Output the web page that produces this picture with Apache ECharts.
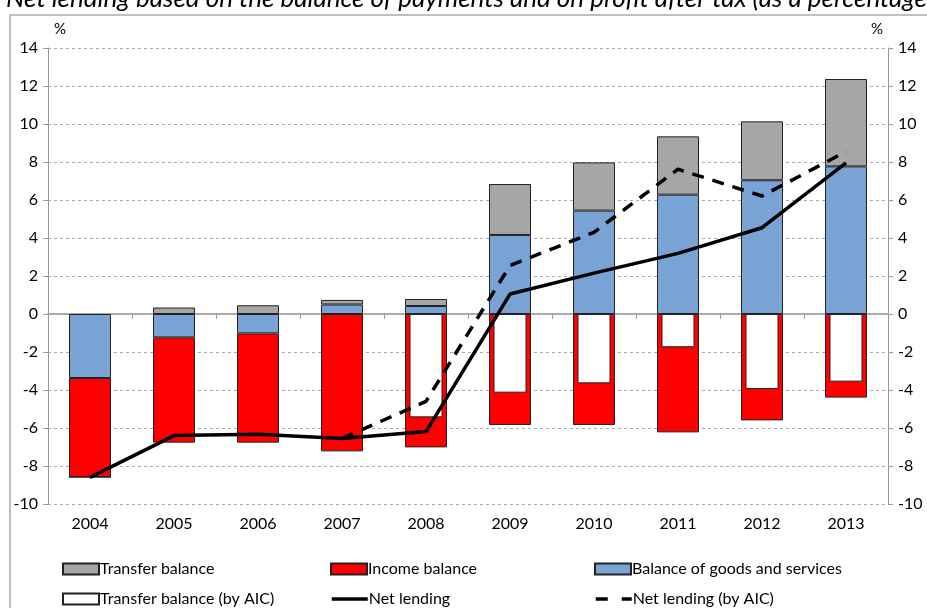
<!DOCTYPE html>
<html>
<head>
<meta charset="utf-8">
<script src="https://cdn.jsdelivr.net/npm/echarts@6/dist/echarts.min.js"></script>
<style>
    html, body { margin: 0; padding: 0; background: #fff; }
    #chart { width: 927px; height: 608px; }
</style>
</head>
<body>
<div id="chart"></div>
<script>
// values (% )
const years = ['2004', '2005', '2006', '2007', '2008', '2009', '2010', '2011', '2012', '2013']
const transfer = [0, 0.34, 0.46, 0.24, 0.37, 2.68, 2.54, 3.07, 3.10, 4.60]
const income = [-5.21, -5.54, -5.75, -7.23, -7.02, -5.84, -5.84, -6.23, -5.60, -4.40]
const goods = [-3.37, -1.23, -1.02, 0.50, 0.42, 4.16, 5.44, 6.28, 7.04, 7.77]
const transferAIC = [null, null, null, null, -5.44, -4.14, -3.65, -1.75, -3.95, -3.56]
const netLending = [-8.6, -6.40, -6.33, -6.55, -6.19, 1.05, 2.15, 3.19, 4.54, 7.96]
const netLendingAIC = [null, null, null, -6.55, -4.60, 2.55, 4.30, 7.62, 6.21, 8.55]

const font = 'Lato'
const edge = { borderColor: '#222', borderWidth: 1 }

const chart = echarts.init(document.getElementById('chart'))

const yAxisBase = {
    type: 'value',
    min: -10,
    max: 14,
    interval: 2,
    axisLine: { show: true, lineStyle: { color: '#999', width: 1 } },
    axisTick: { show: true, length: 5, lineStyle: { color: '#999' } },
    axisLabel: { color: '#000', fontFamily: font, fontSize: 16, margin: 10 },
    splitLine: { show: true, lineStyle: { color: '#aaa', type: [3, 3], width: 1 } }
}

function legendAt(name, left, top, extra) {
    return Object.assign({
        data: [name],
        left: left,
        top: top,
        icon: 'rect',
        itemWidth: 36,
        itemHeight: 11,
        itemGap: 0,
        padding: 0,
        textStyle: { color: '#000', fontFamily: font, fontSize: 16, padding: [0, 0, 0, -4] },
        selectedMode: false
    }, extra || {})
}

const option = {
    animation: false,
    grid: { left: 48, right: 39, top: 48, bottom: 104 },
    graphic: [
        {
            type: 'rect',
            shape: { x: 10, y: 15, width: 1200, height: 1200 },
            style: { fill: 'none', stroke: '#aaa', lineWidth: 1.5 },
            silent: true
        },
        {
            type: 'text',
            left: 6,
            top: -14,
            style: {
                text: 'Net lending based on the balance of payments and on profit after tax (as a percentage of GDP)',
                font: 'italic 26px Lato',
                fill: '#000'
            }
        },
        {
            type: 'text', left: 54, top: 22,
            style: { text: '%', font: '15px Lato', fill: '#000' }
        },
        {
            type: 'text', left: 871, top: 22,
            style: { text: '%', font: '15px Lato', fill: '#000' }
        }
    ],
    legend: [
        legendAt('Transfer balance', 62, 561),
        legendAt('Income balance', 330, 561),
        legendAt('Balance of goods and services', 594, 561),
        legendAt('Transfer balance (by AIC)', 62, 591),
        // line legends: keep the stroke, hide the dot
        legendAt('Net lending', 330, 591, {
            icon: null, itemStyle: { opacity: 0 }, lineStyle: { width: 3.5 }
        }),
        legendAt('Net lending (by AIC)', 594, 591, {
            icon: null, itemStyle: { opacity: 0 }, lineStyle: { width: 3.5, type: [12, 14] }
        })
    ],
    xAxis: [
        {
            type: 'category',
            data: years,
            position: 'bottom',
            axisLine: { onZero: true, lineStyle: { color: '#aaa', width: 2 } },
            axisTick: { show: true, length: 5, inside: false, lineStyle: { color: '#999' } },
            axisLabel: { show: false }
        },
        {
            type: 'category',
            data: years,
            position: 'bottom',
            axisLine: { show: false, onZero: false },
            axisTick: { show: false },
            axisLabel: { color: '#000', fontFamily: font, fontSize: 16, margin: 12 }
        }
    ],
    yAxis: [
        Object.assign({}, yAxisBase, { position: 'left' }),
        Object.assign({}, yAxisBase, { position: 'right', splitLine: { show: false } })
    ],
    series: [
        {
            name: 'Balance of goods and services',
            type: 'bar',
            stack: 'bop',
            barWidth: 42,
            data: goods,
            itemStyle: Object.assign({ color: '#78A3D4' }, edge)
        },
        {
            name: 'Income balance',
            type: 'bar',
            stack: 'bop',
            barWidth: 42,
            data: income,
            itemStyle: Object.assign({ color: '#FF0000' }, edge)
        },
        {
            name: 'Transfer balance',
            type: 'bar',
            stack: 'bop',
            barWidth: 42,
            data: transfer,
            itemStyle: Object.assign({ color: '#A6A6A6' }, edge)
        },
        {
            name: 'Transfer balance (by AIC)',
            type: 'bar',
            xAxisIndex: 1,
            barWidth: 33,
            z: 3,
            data: transferAIC,
            itemStyle: Object.assign({ color: '#FFFFFF' }, edge)
        },
        {
            name: 'Net lending',
            type: 'line',
            z: 5,
            symbol: 'none',
            data: netLending,
            lineStyle: { color: '#000', width: 3.5 },
            itemStyle: { color: '#000' }
        },
        {
            name: 'Net lending (by AIC)',
            type: 'line',
            z: 5,
            symbol: 'none',
            data: netLendingAIC,
            lineStyle: { color: '#000', width: 3.5, type: [12, 9] },
            itemStyle: { color: '#000' }
        }
    ]
}

chart.setOption(option)
</script>
</body>
</html>
